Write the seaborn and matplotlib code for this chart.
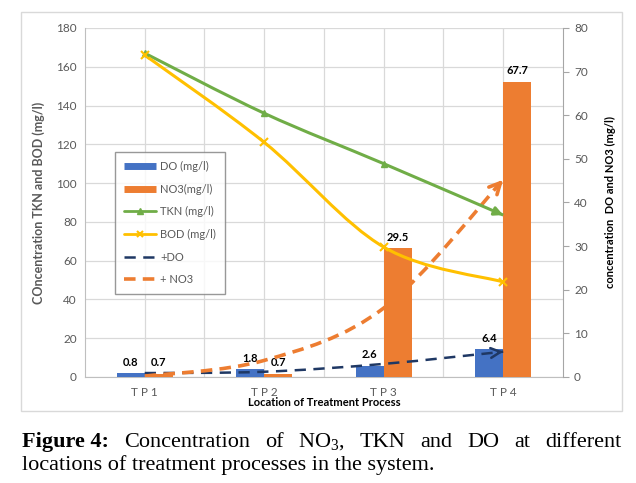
import numpy as np
import pandas as pd
import matplotlib
matplotlib.use("Agg")
import matplotlib.pyplot as plt
import seaborn as sns
from matplotlib.path import Path
from matplotlib.patches import PathPatch, Rectangle
from matplotlib.lines import Line2D

# Data
locations = ["T P 1", "T P 2", "T P 3", "T P 4"]
do_vals = [0.8, 1.8, 2.6, 6.4]          # right axis, bars
no3_vals = [0.7, 0.7, 29.5, 67.7]       # right axis, bars
tkn_vals = [167, 136, 110, 83.5]        # left axis, line
bod_vals = [166, 121, 67, 49]           # left axis, line
do_trend = [0.9, 1.2, 3.0, 5.8]         # right axis, dashed arrow
no3_trend = [0.2, 3.8, 15.8, 45.2]      # right axis, dashed arrow

BLUE = "#4472C4"
ORANGE = "#ED7D31"
GREEN = "#70AD47"
GOLD = "#FFC000"
NAVY = "#1F3864"
GRID = "#d9d9d9"
TXT = "#595959"

sns.set_style("white")
plt.rcParams["font.family"] = ["Lato", "DejaVu Sans"]
plt.rcParams["mathtext.fontset"] = "custom"
plt.rcParams["mathtext.rm"] = "Liberation Serif"


def smooth_path(xs, ys):
    # Excel-like smoothed line (Bezier through the data points)
    pts = np.column_stack([xs, ys]).astype(float)
    verts = [pts[0]]
    codes = [Path.MOVETO]
    n = len(pts)
    for i in range(n - 1):
        p0 = pts[max(i - 1, 0)]
        p1 = pts[i]
        p2 = pts[i + 1]
        p3 = pts[min(i + 2, n - 1)]
        verts += [p1 + (p2 - p0) / 6, p2 - (p3 - p1) / 6, p2]
        codes += [Path.CURVE4] * 3
    return Path(verts, codes), verts[-2], verts[-1]


def draw_curve(ax, ys, color, lw, ls="-", arrow=None):
    xs = np.arange(len(ys))
    path, ctrl, end = smooth_path(xs, ys)
    ax.add_patch(PathPatch(path, facecolor="none", edgecolor=color, lw=lw,
                           linestyle=ls, capstyle="butt", zorder=3))
    if arrow is not None:
        start = end + 0.25 * (np.asarray(ctrl) - end)
        ax.annotate("", xy=end, xytext=start,
                    arrowprops=dict(arrowstyle=arrow, color=color, lw=lw,
                                    shrinkA=0, shrinkB=0), zorder=4)


fig = plt.figure(figsize=(6.36, 4.83), dpi=100)

# light frame around the chart area
fig.patches.append(Rectangle((0.033, 0.149), 0.945, 0.826, transform=fig.transFigure,
                             fill=False, edgecolor="#d9d9d9", lw=1))

# base axes: left scale + grid
ax = fig.add_axes([0.1336, 0.2195, 0.7516, 0.7226])
# bars + dashed trends on right scale
ax2 = ax.twinx()
# TKN / BOD lines on top (left scale)
ax3 = ax.twinx()

df_bars = pd.DataFrame({
    "loc": locations * 2,
    "param": ["DO (mg/l)"] * 4 + ["NO3(mg/l)"] * 4,
    "value": do_vals + no3_vals,
})
sns.barplot(data=df_bars, x="loc", y="value", hue="param", order=locations,
            palette=[BLUE, ORANGE], width=0.467, saturation=1, linewidth=0,
            legend=False, ax=ax2)
for cont in ax2.containers:
    ax2.bar_label(cont, fmt="%.1f", padding=4, fontsize=8, fontweight="bold", color="black")

draw_curve(ax2, do_trend, NAVY, 1.8, ls=(0, (4.5, 3)),
           arrow="->,head_length=0.7,head_width=0.35")
draw_curve(ax2, no3_trend, ORANGE, 2.6, ls=(0, (3.2, 2)),
           arrow="->,head_length=0.8,head_width=0.4")

draw_curve(ax3, tkn_vals, GREEN, 2.2, arrow="-|>,head_length=0.5,head_width=0.25")
draw_curve(ax3, bod_vals, GOLD, 2.2)
ax3.plot(np.arange(3), tkn_vals[:3], ls="none", marker="^", ms=5, color=GREEN, zorder=5)
ax3.plot(np.arange(4), bod_vals, ls="none", marker="x", ms=6, mew=1.5, color=GOLD, zorder=5)

# limits
for a in (ax, ax2, ax3):
    a.set_xlim(-0.5, 3.5)
ax.set_ylim(0, 180)
ax3.set_ylim(0, 180)
ax2.set_ylim(0, 80)

# left axis + grid
ax.set_yticks(np.arange(0, 181, 20))
ax.set_xticks(range(4))
ax.set_xticklabels(locations)
ax.set_xticks([0.5, 1.5, 2.5], minor=True)
ax.grid(axis="y", color=GRID, lw=0.9)
ax.grid(axis="x", which="both", color=GRID, lw=0.9)
ax.tick_params(axis="both", which="both", length=0, labelsize=8.5, labelcolor=TXT)
ax.tick_params(axis="y", pad=6)
ax.tick_params(axis="x", pad=7)
for s in ("top", "right"):
    ax.spines[s].set_visible(False)
for s in ("left", "bottom"):
    ax.spines[s].set_color("#bfbfbf")
ax.set_xlabel("Location of Treatment Process", fontsize=8, fontweight="bold", color="black")
ax.xaxis.set_label_coords(0.5, -0.058)
ax.set_ylabel("COncentration TKN and BOD (mg/l)", fontsize=9, fontweight="bold", color=TXT)
ax.yaxis.set_label_coords(-0.084, 0.5)

# right axis
ax2.set_yticks(np.arange(0, 81, 10))
ax2.tick_params(axis="y", length=4, width=0.8, color="#a6a6a6", labelsize=8.5,
                labelcolor=TXT, pad=4)
ax2.set_xlabel("")
for s in ("top", "left", "bottom"):
    ax2.spines[s].set_visible(False)
ax2.spines["right"].set_color("#a6a6a6")
ax2.set_ylabel("concentration  DO and NO3 (mg/l)", fontsize=8, fontweight="bold", color="black")
ax2.yaxis.set_label_coords(1.088, 0.5)

ax3.set_axis_off()

# legend
handles = [
    Line2D([], [], color=BLUE, lw=5, solid_capstyle="butt"),
    Line2D([], [], color=ORANGE, lw=5, solid_capstyle="butt"),
    Line2D([], [], color=GREEN, lw=2, marker="^", ms=5),
    Line2D([], [], color=GOLD, lw=2, marker="x", ms=5, mew=1.5),
    Line2D([], [], color=NAVY, lw=1.8, ls=(0, (4.5, 3))),
    Line2D([], [], color=ORANGE, lw=2.6, ls=(0, (3.2, 2))),
]
labels = ["DO (mg/l)", "NO3(mg/l)", "TKN (mg/l)", "BOD (mg/l)", "+DO", "+ NO3"]
leg = ax3.legend(handles, labels, loc="upper left", bbox_to_anchor=(0.063, 0.645),
                 frameon=True, fancybox=False, edgecolor="#7f7f7f", fontsize=8,
                 handlelength=2.9, handletextpad=0.35, labelspacing=1.05,
                 borderpad=0.8, borderaxespad=0)
leg.get_frame().set_linewidth(1)
for t in leg.get_texts():
    t.set_color(TXT)

# caption: first line justified between the frame edges, second line left aligned
cap = dict(fontsize=16, family="Liberation Serif", color="black", va="baseline")
words = [("Figure 4:", "bold"), ("Concentration", "normal"), ("of", "normal"),
         ("NO$_3$,", "normal"), ("TKN", "normal"), ("and", "normal"),
         ("DO", "normal"), ("at", "normal"), ("different", "normal")]
left_px, right_px = 22, 621
renderer = fig.canvas.get_renderer()
texts = [fig.text(0, 1 - 447 / 483, w, fontweight=fw, **cap) for w, fw in words]
widths = [t.get_window_extent(renderer).width for t in texts]
gap = (right_px - left_px - sum(widths)) / (len(words) - 1)
xpos = left_px
for t, wd in zip(texts, widths):
    t.set_x(xpos / 636)
    xpos += wd + gap
fig.text(left_px / 636, 1 - 470 / 483, "locations of treatment processes in the system.", **cap)

fig.savefig("out.png", dpi=100)
